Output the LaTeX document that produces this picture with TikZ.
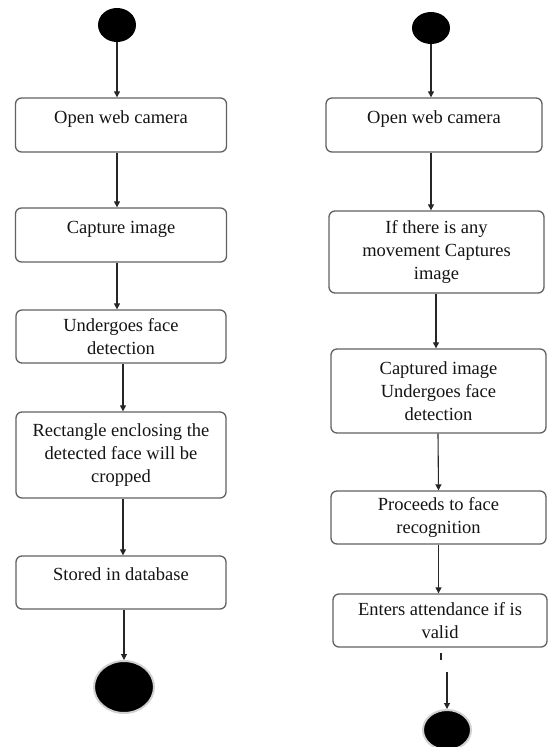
\documentclass[tikz,border=0pt]{standalone}
\usepackage{fontspec}
\newfontfamily\actfont{Liberation Serif}
\usetikzlibrary{arrows.meta,shapes.geometric}
\begin{document}
\begin{tikzpicture}[x=1pt,y=-1pt,
  act/.style={draw=black!62, line width=1.3pt, rounded corners=6pt, align=center,
    font=\actfont\fontsize{18.5}{23}\selectfont, inner sep=0pt, text=black!92},
  flow/.style={draw=black!85, line width=1.1pt, -{Triangle[length=6pt,width=6pt]}},
  startdot/.style={ellipse, fill=black, inner sep=0pt},
  enddot/.style={ellipse, fill=black, draw=black!18, line width=2pt, inner sep=0pt}
]
\useasboundingbox (0,0) rectangle (548,747);
% left column
\node[startdot, minimum width=38pt, minimum height=34pt] (ls) at (117,25) {};
\node[act, minimum width=211pt, minimum height=54pt] (l1) at (121,125) {Open web camera\\[-14pt]\strut};
\node[act, minimum width=211pt, minimum height=54pt] (l2) at (121,235) {Capture image\\[-14pt]\strut};
\node[act, minimum width=210pt, minimum height=53pt] (l3) at (121,336.5) {Undergoes face\\detection};
\node[act, minimum width=210pt, minimum height=86pt] (l4) at (121,455) {Rectangle enclosing the\\detected face will be\\cropped};
\node[act, minimum width=210pt, minimum height=53pt] (l5) at (121,582.5) {Stored in database\\[-14pt]\strut};
\node[enddot, minimum width=60pt, minimum height=52pt] (le) at (124,687) {};
\draw[flow] (ls.south) -- ([xshift=-4pt]l1.north);
\draw[flow] ([xshift=-4pt]l1.south) -- ([xshift=-4pt]l2.north);
\draw[flow] ([xshift=-4pt]l2.south) -- ([xshift=-4pt]l3.north);
\draw[flow] ([xshift=2pt]l3.south) -- ([xshift=2pt]l4.north);
\draw[flow] ([xshift=2pt]l4.south) -- ([xshift=2pt]l5.north);
\draw[flow] ([xshift=3pt]l5.south) -- (le.north);
% right column
\node[startdot, minimum width=38pt, minimum height=32pt] (rs) at (431,28) {};
\node[act, minimum width=216pt, minimum height=54pt] (r1) at (434,125) {Open web camera\\[-14pt]\strut};
\node[act, minimum width=215pt, minimum height=82pt] (r2) at (436.5,252) {If there is any\\movement Captures\\image};
\node[act, minimum width=215pt, minimum height=84pt] (r3) at (438.5,391) {Captured image\\Undergoes face\\detection};
\node[act, minimum width=215pt, minimum height=53pt] (r4) at (438.5,517.5) {Proceeds to face\\recognition};
\node[act, minimum width=214pt, minimum height=53pt] (r5) at (440,620.5) {Enters attendance if is\\valid};
\node[enddot, minimum width=48pt, minimum height=40pt] (re) at (447,730) {};
\coordinate (rc) at (447,672);
\draw[flow] (rs.south) -- ([xshift=-3pt]r1.north);
\draw[flow] ([xshift=-3pt]r1.south) -- ([xshift=-5.5pt]r2.north);
\draw[flow] ([xshift=-0.5pt]r2.south) -- ([xshift=-2.5pt]r3.north);
\draw[flow] ([xshift=-0.5pt]r3.south) -- (r4.north);
\draw[flow] (r4.south) -- ([xshift=-1.5pt]r5.north);
\draw[draw=black!85, line width=1.1pt] ([xshift=1pt,yshift=-5pt]r5.south) -- ++(0,7);
\draw[flow] (rc) -- (re.north);
\end{tikzpicture}
\end{document}
